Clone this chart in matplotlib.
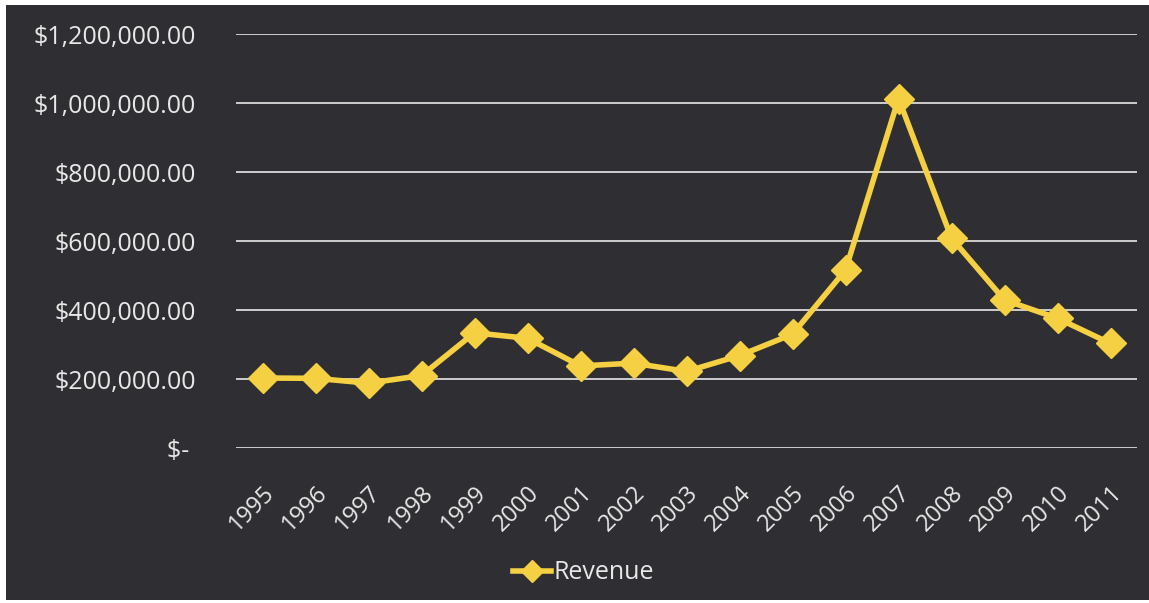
import matplotlib
matplotlib.use("Agg")
import matplotlib.pyplot as plt
from matplotlib.patches import Rectangle

# revenue per year
years = ["1995", "1996", "1997", "1998", "1999", "2000", "2001", "2002", "2003",
         "2004", "2005", "2006", "2007", "2008", "2009", "2010", "2011"]
revenue = [203000, 202000, 188000, 210000, 334000, 318000, 238000, 246000, 222000,
           268000, 330000, 516000, 1013000, 608000, 429000, 376000, 303000]

y_ticks = [0, 200000, 400000, 600000, 800000, 1000000, 1200000]

bg = "#2f2f33"
fg = "#e8e8e8"
gold = "#f5d042"
font = "Open Sans"

fig = plt.figure(figsize=(11.49, 6.03), dpi=100)
fig.patch.set_facecolor("white")
fig.patches.append(Rectangle((6 / 1149, 3 / 603), 1 - 6 / 1149, 1 - 8 / 603,
                             transform=fig.transFigure, facecolor=bg,
                             edgecolor="none", zorder=-5))

ax = fig.add_axes([0.2054, 0.257, 0.7842, 0.6866])
ax.set_facecolor("none")
ax.set_zorder(2)

x = list(range(len(years)))
ax.plot(x, revenue, color=gold, lw=4, marker="D", ms=15, mec=gold, mfc=gold,
        label="Revenue", zorder=3)

ax.set_xlim(-0.5, len(years) - 0.5)
ax.set_ylim(0, 1200000)
ax.set_yticks(y_ticks)
ax.set_yticklabels(["$- "] + ["${:,.2f}".format(v) for v in y_ticks[1:]],
                   fontsize=18, color=fg, family=font)
ax.set_xticks(x)
ax.set_xticklabels(years, rotation=45, ha="right", va="top", rotation_mode="anchor",
                   fontsize=17, color=fg, family=font)
ax.tick_params(axis="both", length=0)
ax.tick_params(axis="y", pad=29)
ax.tick_params(axis="x", pad=24)

ax.grid(axis="y", color="#e8e8e8", lw=1.2)
ax.set_axisbelow(True)
for s in ax.spines.values():
    s.set_visible(False)

leg = fig.legend(loc="center", bbox_to_anchor=(0.508, 0.05), frameon=False,
                 prop={"family": font, "size": 18}, handlelength=1.5,
                 handletextpad=0.1, markerscale=0.75)
leg.set_zorder(3)
for t in leg.get_texts():
    t.set_color(fg)

fig.savefig("out.png", dpi=100, facecolor=fig.get_facecolor())
